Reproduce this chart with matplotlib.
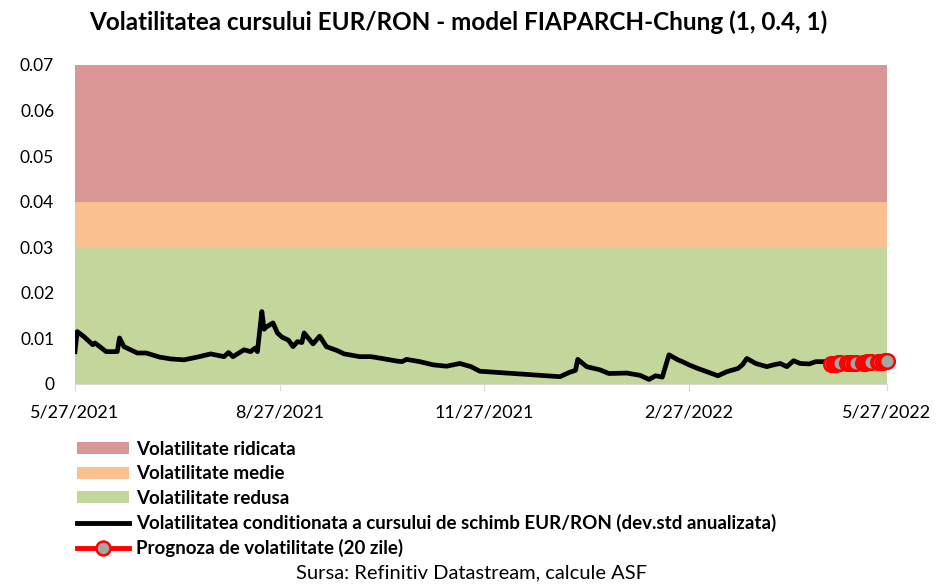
import pandas as pd
import matplotlib.pyplot as plt
from matplotlib.patches import Patch
from matplotlib.lines import Line2D

# Bands (volatility zones)
band_labels = ['Volatilitate ridicata', 'Volatilitate medie', 'Volatilitate redusa']
band_low = [0.04, 0.03, 0.0]
band_high = [0.07, 0.04, 0.03]
band_colors = ['#D99694', '#FAC090', '#C3D69B']

# Conditional volatility
hist_dates = [
    '2021-05-27', '2021-05-28', '2021-05-31', '2021-06-04', '2021-06-05', '2021-06-10',
    '2021-06-15', '2021-06-16', '2021-06-18', '2021-06-24', '2021-06-28', '2021-07-04',
    '2021-07-09', '2021-07-15', '2021-07-21', '2021-07-27', '2021-08-02', '2021-08-04',
    '2021-08-06', '2021-08-11', '2021-08-14', '2021-08-16', '2021-08-17', '2021-08-19',
    '2021-08-20', '2021-08-21', '2021-08-24', '2021-08-26', '2021-08-28', '2021-08-31',
    '2021-09-02', '2021-09-04', '2021-09-06', '2021-09-07', '2021-09-11', '2021-09-14',
    '2021-09-17', '2021-09-22', '2021-09-25', '2021-10-02', '2021-10-07', '2021-10-12',
    '2021-10-19', '2021-10-21', '2021-10-23', '2021-10-29', '2021-11-04', '2021-11-10',
    '2021-11-16', '2021-11-21', '2021-11-25', '2021-12-04', '2021-12-13', '2021-12-22',
    '2021-12-31', '2022-01-04', '2022-01-07', '2022-01-08', '2022-01-12', '2022-01-18',
    '2022-01-22', '2022-01-30', '2022-02-05', '2022-02-09', '2022-02-12', '2022-02-15',
    '2022-02-18', '2022-02-22', '2022-02-24', '2022-02-27', '2022-03-03', '2022-03-07',
    '2022-03-12', '2022-03-16', '2022-03-21', '2022-03-23', '2022-03-25', '2022-03-29',
    '2022-04-03', '2022-04-06', '2022-04-09', '2022-04-12', '2022-04-15', '2022-04-18',
    '2022-04-22', '2022-04-25', '2022-04-29',
]
hist_values = [
    0.0071, 0.0115, 0.0104, 0.0086, 0.0090, 0.0071,
    0.0071, 0.0101, 0.0082, 0.0068, 0.0068, 0.0059,
    0.0055, 0.0053, 0.0059, 0.0066, 0.0060, 0.0069,
    0.0060, 0.0075, 0.0071, 0.0079, 0.0071, 0.0159,
    0.0120, 0.0125, 0.0134, 0.0112, 0.0103, 0.0096,
    0.0082, 0.0093, 0.0091, 0.0112, 0.0088, 0.0105,
    0.0082, 0.0073, 0.0066, 0.0060, 0.0060, 0.0056,
    0.0050, 0.0049, 0.0054, 0.0049, 0.0042, 0.0039,
    0.0045, 0.0038, 0.0028, 0.0025, 0.0022, 0.0019,
    0.0016, 0.0025, 0.0030, 0.0054, 0.0038, 0.0031,
    0.0023, 0.0024, 0.0019, 0.0010, 0.0018, 0.0015,
    0.0064, 0.0053, 0.0049, 0.0042, 0.0034, 0.0027,
    0.0018, 0.0027, 0.0034, 0.0042, 0.0056, 0.0045,
    0.0038, 0.0042, 0.0045, 0.0038, 0.0051, 0.0045,
    0.0044, 0.0049, 0.0049,
]

# 20-day forecast (business days May 2 - May 27, 2022)
fc_start = '2022-05-02'
fc_values = [
    0.0043, 0.0044, 0.0044, 0.0045, 0.0045,
    0.0045, 0.0046, 0.0046, 0.0046, 0.0047,
    0.0047, 0.0047, 0.0048, 0.0048, 0.0048,
    0.0049, 0.0049, 0.0049, 0.0050, 0.0050,
]

tick_dates = ['2021-05-27', '2021-08-27', '2021-11-27', '2022-02-27', '2022-05-27']
tick_labels = ['5/27/2021', '8/27/2021', '11/27/2021', '2/27/2022', '5/27/2022']
y_ticks = [0, 0.01, 0.02, 0.03, 0.04, 0.05, 0.06, 0.07]
y_labels = ['0', '0.01', '0.02', '0.03', '0.04', '0.05', '0.06', '0.07']


def main():
    plt.rcParams['font.family'] = ['Lato', 'DejaVu Sans']

    fig = plt.figure(figsize=(9.42, 5.84), dpi=100)
    ax = fig.add_axes([0.0796, 0.3425, 0.862, 0.5462])

    # Colored zones
    for lo, hi, c in zip(band_low, band_high, band_colors):
        ax.axhspan(lo, hi, color=c, lw=0, zorder=0)

    hd = pd.to_datetime(hist_dates)
    fd = pd.bdate_range(fc_start, periods=len(fc_values))

    ax.plot(hd, hist_values, color='black', lw=3.4, solid_joinstyle='round', zorder=3)
    ax.plot(fd, fc_values, color='red', lw=3, marker='o', markersize=10.5,
            markerfacecolor='#A6A6A6', markeredgecolor='red', markeredgewidth=1.8,
            zorder=4, clip_on=False)

    ax.set_xlim(pd.Timestamp(tick_dates[0]), pd.Timestamp(tick_dates[-1]))
    ax.set_ylim(0, 0.07)
    ax.set_xticks(pd.to_datetime(tick_dates))
    ax.set_xticklabels(tick_labels, fontsize=13)
    ax.set_yticks(y_ticks)
    ax.set_yticklabels(y_labels, fontsize=12.5)

    for side in ['top', 'right', 'left']:
        ax.spines[side].set_visible(False)
    ax.spines['bottom'].set_color('#D9D9D9')
    ax.tick_params(axis='x', length=5, color='#D9D9D9', pad=10)
    ax.tick_params(axis='y', length=0, pad=15)

    fig.text(0.487, 0.962, 'Volatilitatea cursului EUR/RON - model FIAPARCH-Chung (1, 0.4, 1)',
             ha='center', va='center', fontsize=17.5, fontweight='bold')

    # Legend below the chart
    handles = [Patch(facecolor=c, edgecolor='none') for c in band_colors]
    handles.append(Line2D([0], [0], color='black', lw=3.5))
    handles.append(Line2D([0], [0], color='red', lw=3.5, marker='o', markersize=10,
                          markerfacecolor='#A6A6A6', markeredgecolor='red', markeredgewidth=1.8))
    labels = band_labels + [
        'Volatilitatea conditionata a cursului de schimb EUR/RON (dev.std anualizata)',
        'Prognoza de volatilitate (20 zile)',
    ]
    fig.legend(handles, labels, loc='upper left', bbox_to_anchor=(0.0817, 0.245),
               frameon=False, prop={'weight': 'bold', 'size': 13.5},
               handlelength=2.8, handleheight=0.6, handletextpad=0.37,
               labelspacing=0.39, borderaxespad=0, borderpad=0)

    fig.text(0.5, 0.019, 'Sursa: Refinitiv Datastream, calcule ASF', ha='center',
             va='center', fontsize=14.5)

    fig.savefig('out.png', dpi=100)


if __name__ == "__main__":
    main()
